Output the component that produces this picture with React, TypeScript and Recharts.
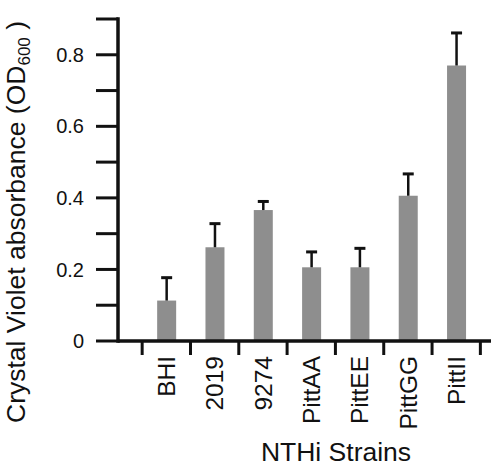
import { BarChart, Bar, XAxis, YAxis } from 'recharts'

const strains = ['BHI', '2019', '9274', 'PittAA', 'PittEE', 'PittGG', 'PittII']
const slots = [1, 2, 3, 4, 5, 6, 7]
const means = [0.113, 0.262, 0.366, 0.206, 0.206, 0.406, 0.77]
const errs = [0.064, 0.066, 0.024, 0.043, 0.053, 0.061, 0.091]
const yTicks = [0, 0.1, 0.2, 0.3, 0.4, 0.5, 0.6, 0.7, 0.8, 0.9]
const xTicks = [0, 0.5, 1, 1.5, 2, 2.5, 3, 3.5, 4, 4.5, 5, 5.5, 6, 6.5, 7, 7.5]

const data = slots.map((pos, i) => ({ pos, name: strains[i], value: means[i], err: errs[i] }))

const FONT = '"Liberation Sans", Arial, sans-serif'
const INK = '#111'

function BarWithError(props: any) {
  const { x, y, width, height, payload } = props
  const errPx = payload.value ? (payload.err * height) / payload.value : 0
  const cx = x + width / 2
  const top = y - errPx
  return (
    <g>
      <rect x={x} y={y} width={width} height={height} fill="#8e8e8e" />
      <line x1={cx} y1={y} x2={cx} y2={top} stroke={INK} strokeWidth={2.5} />
      <line x1={cx - 5.5} y1={top} x2={cx + 5.5} y2={top} stroke={INK} strokeWidth={3} />
    </g>
  )
}

function StrainTick(props: any) {
  const { x, y, payload } = props
  const v = payload.value
  if (Number.isInteger(v)) {
    const label = strains[v - 1]
    if (!label) return null
    return (
      <text
        x={x}
        y={y + 15}
        transform={`rotate(-90, ${x}, ${y + 15})`}
        textAnchor="end"
        dy="0.36em"
        fontSize={24.5}
        fontFamily={FONT}
        fill={INK}
      >
        {label}
      </text>
    )
  }
  return <line x1={x} y1={y} x2={x} y2={y + 14} stroke={INK} strokeWidth={3} />
}

function YTitle(props: any) {
  const { viewBox } = props
  const x = viewBox.x + 25
  const y = 222
  return (
    <text x={x} y={y} transform={`rotate(-90, ${x}, ${y})`} textAnchor="middle" fontSize={26.5} fontFamily={FONT} fill={INK}>
      Crystal Violet absorbance (OD
      <tspan fontSize={17} dy={5}>600</tspan>
      <tspan dy={-5}> )</tspan>
    </text>
  )
}

function XTitle() {
  return (
    <text x={336} y={461} textAnchor="middle" fontSize={26.5} fontFamily={FONT} fill={INK}>
      NTHi Strains
    </text>
  )
}

export default function App() {
  return (
    <div style={{ position: 'absolute', left: 0, top: 0, background: '#fff' }}>
      <BarChart width={491} height={467} data={data} margin={{ top: 19, right: 0, bottom: 0, left: 0 }}>
        <XAxis
          dataKey="pos"
          type="number"
          domain={[0, 7.72]}
          ticks={xTicks}
          interval={0}
          allowDataOverflow
          height={126}
          tickLine={false}
          tickSize={0}
          tickMargin={0}
          tick={<StrainTick />}
          axisLine={{ stroke: INK, strokeWidth: 3.5 }}
          label={<XTitle />}
        />
        <YAxis
          type="number"
          domain={[0, 0.9]}
          ticks={yTicks}
          interval={0}
          width={118}
          tickSize={22}
          tickMargin={12}
          tickFormatter={(v: number) => ([0, 0.2, 0.4, 0.6, 0.8].includes(v) ? (v === 0 ? '0' : v.toFixed(1)) : '')}
          tick={{ fontSize: 20, fontFamily: FONT, fill: INK }}
          tickLine={{ stroke: INK, strokeWidth: 3 }}
          axisLine={{ stroke: INK, strokeWidth: 3.5, strokeLinecap: 'square' }}
          label={<YTitle />}
        />
        <Bar dataKey="value" barSize={19} shape={<BarWithError />} isAnimationActive={false} />
      </BarChart>
    </div>
  )
}
